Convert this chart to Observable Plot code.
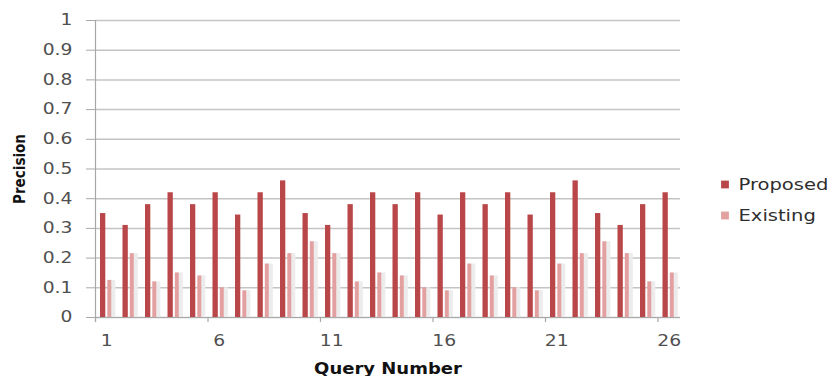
<!DOCTYPE html>
<html>
<head>
<meta charset="utf-8">
<script src="https://cdn.jsdelivr.net/npm/d3@7"></script>
<script src="https://cdn.jsdelivr.net/npm/@observablehq/plot@0.6"></script>
<style>
  html, body { margin: 0; padding: 0; background: #fff; }
  #chart { width: 832px; height: 376px; overflow: hidden; }
</style>
</head>
<body>
<div id="chart"></div>
<script>
const queries = [1,2,3,4,5,6,7,8,9,10,11,12,13,14,15,16,17,18,19,20,21,22,23,24,25,26];
const proposed = [0.35,0.31,0.38,0.42,0.38,0.42,0.345,0.42,0.46,0.35,0.31,0.38,0.42,0.38,0.42,0.345,0.42,0.38,0.42,0.345,0.42,0.46,0.35,0.31,0.38,0.42];
const existing = [0.125,0.215,0.12,0.15,0.14,0.10,0.09,0.18,0.215,0.255,0.215,0.12,0.15,0.14,0.10,0.09,0.18,0.14,0.10,0.09,0.18,0.215,0.255,0.215,0.12,0.15];
const seriesNames = ["Proposed", "Existing"];
const seriesColors = ["#b94649", "#e3a0a0"];
const yTicks = [0,0.1,0.2,0.3,0.4,0.5,0.6,0.7,0.8,0.9,1];
const yTickLabels = ["0","0.1","0.2","0.3","0.4","0.5","0.6","0.7","0.8","0.9","1"];
const xTickLabels = [1,6,11,16,21,26];
const xTitle = "Query Number";
const yTitle = "Precision";

const data = queries.map((q, i) => ({q, proposed: proposed[i], existing: existing[i]}));

const bw = 585 / 26;
const font = "DejaVu Sans, sans-serif";
const legendDy = [15.5, 46.5];

const legendMarks = seriesNames.flatMap((name, i) => [
  Plot.dot([name], {frameAnchor: "right", dx: 44.5, dy: legendDy[i], symbol: "square", r: 4.4,
    fill: seriesColors[i], stroke: null}),
  Plot.text([name], {frameAnchor: "right", dx: 58, dy: legendDy[i], textAnchor: "start", text: d => d,
    fontSize: 16, fill: "#2e2e2e", className: "legtext"})
]);

const chart = Plot.plot({
  width: 832,
  height: 376,
  marginLeft: 95,
  marginRight: 152,
  marginTop: 20,
  marginBottom: 59,
  style: {fontFamily: font, background: "#fff"},
  x: {type: "band", domain: queries, padding: 0, round: false, axis: null},
  y: {domain: [0, 1], axis: null},
  marks: [
    Plot.ruleY(yTicks, {stroke: "#c4c4c4", strokeWidth: 1.5}),
    // soft 3D shadow behind the light bars
    Plot.barY(data, {x: "q", y: "existing", insetLeft: 16.3, insetRight: 2.2, fill: "#ececec"}),
    Plot.barY(data, {x: "q", y: "proposed", insetLeft: 5, insetRight: 12.2, fill: seriesColors[0]}),
    Plot.barY(data, {x: "q", y: "existing", insetLeft: 12.3, insetRight: 6.2, fill: seriesColors[1]}),
    // y axis line and ticks
    Plot.ruleX([queries[0]], {dx: -bw / 2, y1: 1, y2: -0.017, stroke: "#a8a8a8", strokeWidth: 1.2}),
    Plot.ruleY([0], {stroke: "#a8a8a8", strokeWidth: 1.2}),
    Plot.axisY(yTicks, {tickSize: 9, tickPadding: 14, stroke: "#a8a8a8", fill: "#505050", fontSize: 15,
      tickFormat: (d, i) => yTickLabels[i], label: null, className: "ylab"}),
    // x axis ticks at group boundaries
    Plot.ruleX(xTickLabels, {dx: -bw / 2, y1: 0, y2: -0.017, stroke: "#a8a8a8", strokeWidth: 1.2}),
    Plot.axisX(xTickLabels, {tickSize: 0, tickPadding: 18, fill: "#505050", fontSize: 15, label: null, className: "xlab"}),
    // titles
    Plot.text([yTitle], {frameAnchor: "left", dx: -75, rotate: -90, textAnchor: "middle", fontWeight: "bold", fontSize: 15,
      fill: "#111", text: d => d, fontFamily: "DejaVu Sans Condensed, DejaVu Sans, sans-serif", className: "ytitle"}),
    Plot.text([xTitle], {frameAnchor: "bottom", dy: 56, fontWeight: "bold", fontSize: 15,
      fill: "#111", text: d => d, className: "xtitle"}),
    ...legendMarks
  ]
});

document.getElementById("chart").appendChild(chart);

// horizontally stretch text to mimic the wide rendering of the reference
function stretch(sel, f) {
  chart.querySelectorAll(sel).forEach(t => {
    const len = t.getComputedTextLength();
    t.setAttribute("textLength", (len * f).toFixed(1));
    t.setAttribute("lengthAdjust", "spacingAndGlyphs");
  });
}
stretch(".ylab text", 1.25);
stretch(".xlab text", 1.25);
stretch(".legtext text", 1.22);
stretch(".xtitle text", 1.2);
</script>
</body>
</html>
